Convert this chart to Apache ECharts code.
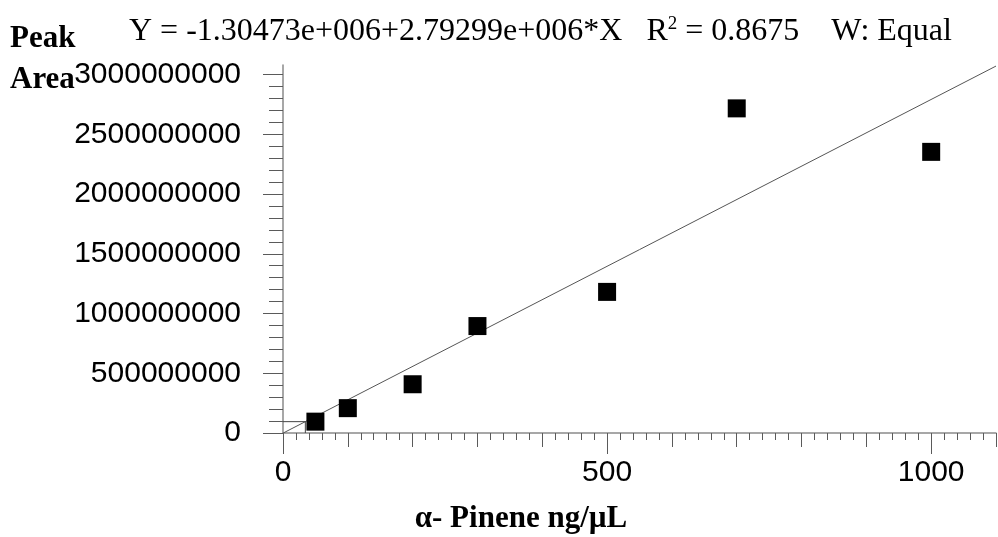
<!DOCTYPE html>
<html>
<head>
<meta charset="utf-8">
<script src="https://cdn.jsdelivr.net/npm/echarts@6/dist/echarts.min.js"></script>
<style>
  html, body { margin: 0; padding: 0; background: #fff; }
  #chart { width: 998px; height: 537px; }
</style>
</head>
<body>
<div id="chart"></div>
<script>
// Calibration standards: concentration (ng/µL) and measured peak area
const concentration = [50, 100, 200, 300, 500, 700, 1000];
const peakArea = [95000000, 208000000, 408000000, 895000000, 1181000000, 2717000000, 2353000000];

// Least-squares fit reported for the curve: Y = a + b*X
const fitIntercept = -1.30473e6;
const fitSlope = 2.79299e6;

// Axis ranges and labelled ticks
const xRange = [0, 1100];
const yRange = [0, 3080000000];
const xMajorTicks = [0, 500, 1000];
const yMajorTicks = [0, 500000000, 1000000000, 1500000000, 2000000000, 2500000000, 3000000000];

const equationText = 'Y = -1.30473e+006+2.79299e+006*X   R{sup|2} = 0.8675    W: Equal';
const yTitleLines = ['Peak', 'Area'];
const xTitle = 'α- Pinene ng/µL';

const yMinorStep = 100000000;
const yMinorTicks = [];
for (let v = 0; v <= yMajorTicks[yMajorTicks.length - 1]; v += yMinorStep) yMinorTicks.push(v);

const AXIS_GREY = '#8a8a8a';
const TICK_GREY = '#5a5a5a';
const SANS = '"Liberation Sans", Arial, sans-serif';
const SERIF = '"Liberation Serif", "Times New Roman", serif';

const fitLine = [xRange[0], xRange[1]].map(x => [x, fitIntercept + fitSlope * x]);
// Drop line from the lowest standard to the fitted curve and down to the x axis
const lowX = (peakArea[0] - fitIntercept) / fitSlope;
const lowGuide = [[0, peakArea[0]], [lowX, peakArea[0]], [lowX, 0]];

const plainNumber = v => String(Math.round(v));

function xAxisLayer(opts) {
  return Object.assign({
    type: 'value', position: 'bottom', min: xRange[0], max: xRange[1],
    axisLine: { show: false, onZero: false },
    axisTick: { show: true, inside: false, lineStyle: { color: TICK_GREY, width: 1 } },
    axisLabel: { show: false },
    splitLine: { show: false }
  }, opts);
}
function yAxisLayer(opts) {
  return Object.assign({
    type: 'value', position: 'left', min: yRange[0], max: yRange[1],
    axisLine: { show: false, onZero: false },
    axisTick: { show: true, inside: false, lineStyle: { color: TICK_GREY, width: 1 } },
    axisLabel: { show: false },
    splitLine: { show: false }
  }, opts);
}

const chart = echarts.init(document.getElementById('chart'), null, { renderer: 'canvas' });
chart.setOption({
  animation: false,
  backgroundColor: '#fff',
  grid: { left: 283, right: 2, top: 65, bottom: 104, containLabel: false },
  xAxis: [
    xAxisLayer({
      axisLine: { show: true, onZero: false, lineStyle: { color: AXIS_GREY, width: 1.5 } },
      axisTick: { show: true, customValues: xMajorTicks, length: 21, lineStyle: { color: TICK_GREY, width: 1 } },
      axisLabel: { show: true, customValues: xMajorTicks, formatter: plainNumber, margin: 25, color: '#000', fontSize: 30, fontFamily: SANS }
    }),
    xAxisLayer({ interval: 100, axisTick: { show: true, length: 14, lineStyle: { color: TICK_GREY, width: 1 } } }),
    xAxisLayer({ interval: 20, axisTick: { show: true, length: 7, lineStyle: { color: TICK_GREY, width: 1 } } })
  ],
  yAxis: [
    yAxisLayer({
      axisLine: { show: true, onZero: false, lineStyle: { color: AXIS_GREY, width: 1.5 } },
      axisTick: { show: true, customValues: yMajorTicks, length: 20, lineStyle: { color: TICK_GREY, width: 1 } },
      axisLabel: { show: true, customValues: yMajorTicks, formatter: plainNumber, margin: 42, color: '#000', fontSize: 30, fontFamily: SANS }
    }),
    yAxisLayer({ axisTick: { show: true, customValues: yMinorTicks, length: 14, lineStyle: { color: TICK_GREY, width: 1 } } })
  ],
  series: [
    {
      name: 'fit', type: 'line', xAxisIndex: 0, yAxisIndex: 0,
      data: fitLine, symbol: 'none', silent: true, z: 2,
      lineStyle: { color: '#555', width: 1 }
    },
    {
      name: 'low', type: 'line', xAxisIndex: 0, yAxisIndex: 0,
      data: lowGuide, symbol: 'none', silent: true, z: 2,
      lineStyle: { color: '#444', width: 1 }
    },
    {
      name: 'standards', type: 'scatter', xAxisIndex: 0, yAxisIndex: 0,
      data: concentration.map((x, i) => [x, peakArea[i]]),
      symbol: 'rect', symbolSize: 18, z: 3,
      itemStyle: { color: '#000', opacity: 1 }
    }
  ],
  graphic: [
    {
      type: 'text', x: 129, y: 32, z: 10,
      style: {
        text: equationText, verticalAlign: 'middle',
        fill: '#000', font: '32px ' + SERIF,
        rich: { sup: { fontSize: 19, fontFamily: SERIF, fill: '#000', padding: [0, 0, 16, 0] } }
      }
    },
    {
      type: 'text', x: 10, y: 39, z: 10,
      style: { text: yTitleLines[0], verticalAlign: 'middle', fill: '#000', font: 'bold 31px ' + SERIF }
    },
    {
      type: 'text', x: 10, y: 80, z: 10,
      style: { text: yTitleLines[1], verticalAlign: 'middle', fill: '#000', font: 'bold 31px ' + SERIF }
    },
    {
      type: 'text', x: 521, y: 519, z: 10,
      style: { text: xTitle, align: 'center', verticalAlign: 'middle', fill: '#000', font: 'bold 31px ' + SERIF }
    }
  ]
});
</script>
</body>
</html>
